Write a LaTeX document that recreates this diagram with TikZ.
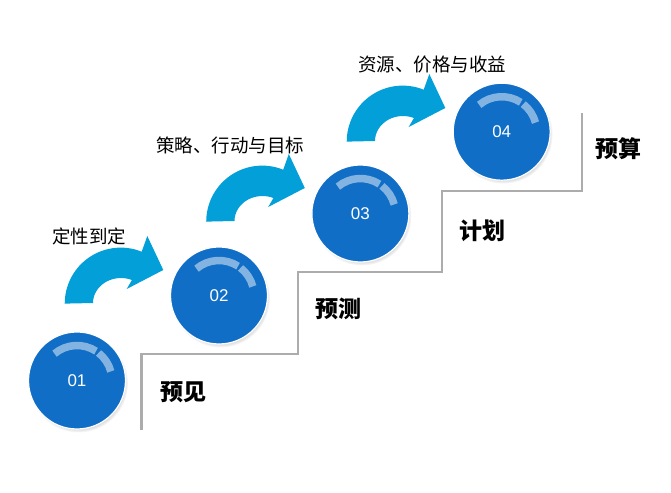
\documentclass[tikz,border=0pt]{standalone}
\usepackage{fontspec}
\setmainfont{Liberation Sans}
\newfontfamily\cjk{Noto Sans CJK SC}
\usetikzlibrary{shadows,calc}
\definecolor{ballblue}{RGB}{16,110,198}
\definecolor{arrowblue}{RGB}{2,159,216}
\definecolor{stairgray}{RGB}{172,172,172}
\tikzset{
  ball/.style={circle, minimum size=97pt, inner sep=0pt, fill=ballblue, draw=white, line width=1.2pt,
    circular drop shadow={shadow xshift=1.5pt, shadow yshift=-2.5pt, shadow scale=1.02, opacity=0.5},
    text=white, font=\fontsize{17}{17}\selectfont},
  hilite/.style={white, opacity=0.48, line width=7.5pt},
  curlarrow/.style={fill=arrowblue},
  toplabel/.style={font=\cjk\fontsize{18.5}{18.5}\selectfont, inner sep=0pt},
  steplabel/.style={font=\cjk\bfseries\fontsize{23}{23}\selectfont, inner sep=0pt},
  stairline/.style={draw=stairgray, line width=2.8pt}
}
\newcommand{\curl}[1]{%
  \fill[curlarrow, shift={#1}] (-28,0) arc[start angle=180, end angle=67, x radius=28, y radius=25]
    -- (5.7,14) -- (42.3,33) -- (26.3,67) -- (20.7,51.3)
    arc[start angle=68, end angle=180, radius=56] -- cycle;}
\newcommand{\hl}[1]{%
  \draw[hilite] ($(#1)+(130:35)$) arc[start angle=130, end angle=57, radius=35];
  \draw[hilite] ($(#1)+(52:35)$) arc[start angle=52, end angle=15, radius=35];}
\begin{document}
\begin{tikzpicture}[x=1pt, y=1pt]
\useasboundingbox[fill=white] (0,0) rectangle (671,492);
% stairs
\coordinate (s0) at (141.5,62);
\coordinate (s1) at (141.5,138);
\coordinate (s2) at (298,138);
\coordinate (s3) at (298,220);
\coordinate (s4) at (442,220);
\coordinate (s5) at (442,301);
\coordinate (s6) at (582,301);
\coordinate (s7) at (582,379);
\draw[stairline] (s0) -- (s1) -- (s2) -- (s3) -- (s4) -- (s5) -- (s6) -- (s7);
% arrows
\curl{(121,189)}
\curl{(262.5,271)}
\curl{(403,351)}
% balls
\node[ball] (b1) at (77,111.5) {01};
\node[ball] (b2) at (219,196.5) {02};
\node[ball] (b3) at (360.4,278.5) {03};
\node[ball] (b4) at (501.7,360.3) {04};
\hl{b1}\hl{b2}\hl{b3}\hl{b4}
% labels
\node[toplabel] (t1) at (89,256) {定性到定};
\node[toplabel] (t2) at (230,347) {策略、行动与目标};
\node[toplabel] (t3) at (432,427) {资源、价格与收益};
\node[steplabel] (l1) at (183.7,100) {预见};
\node[steplabel] (l2) at (338,183) {预测};
\node[steplabel] (l3) at (482,261) {计划};
\node[steplabel] (l4) at (618,343) {预算};
\end{tikzpicture}
\end{document}
